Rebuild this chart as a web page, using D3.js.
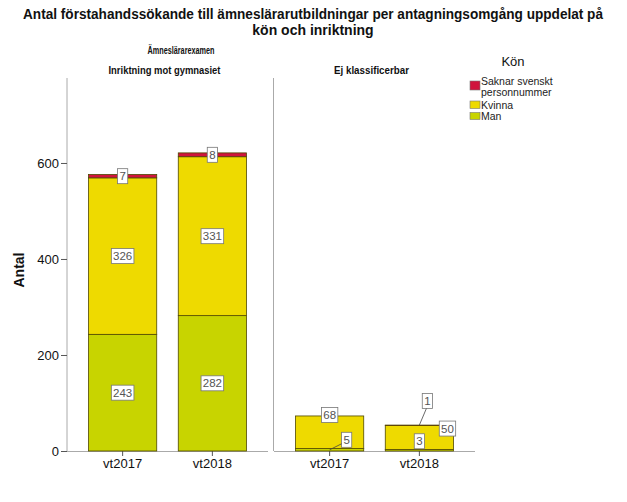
<!DOCTYPE html>
<html><head><meta charset="utf-8">
<script src="https://cdn.jsdelivr.net/npm/d3@7"></script>
<style>body{margin:0;background:#fff}svg{display:block}</style>
</head><body><svg id="c" width="627" height="502"></svg>
<script>
const panels = ["Inriktning mot gymnasiet", "Ej klassificerbar"];
const periods = ["vt2017", "vt2018"];
const seriesNames = ["Man", "Kvinna", "Saknar svenskt personnummer"];
// values per panel, per period
const manValues = [[243, 282], [5, 3]];
const kvinnaValues = [[326, 331], [68, 50]];
const saknarValues = [[7, 8], [0, 1]];
const yTicks = [0, 200, 400, 600];
const colors = ["#C8D400", "#EEDA00", "#D0143C"];

const svg = d3.select("#c");
const font = "Arial, 'Liberation Sans', sans-serif";

// Title
svg.append("text").attr("x", 313).attr("y", 19).attr("text-anchor", "middle")
  .attr("font-family", font).attr("font-weight", "bold").attr("font-size", 14).attr("fill", "#111")
  .attr("textLength", 580).attr("lengthAdjust", "spacingAndGlyphs")
  .text("Antal förstahandssökande till ämneslärarutbildningar per antagningsomgång uppdelat på");
svg.append("text").attr("x", 313).attr("y", 35).attr("text-anchor", "middle")
  .attr("font-family", font).attr("font-weight", "bold").attr("font-size", 14).attr("fill", "#111")
  .text("kön och inriktning");

svg.append("text").attr("x", 181).attr("y", 54).attr("text-anchor", "middle")
  .attr("font-family", font).attr("font-weight", "bold").attr("font-size", 11).attr("fill", "#111")
  .attr("textLength", 67).attr("lengthAdjust", "spacingAndGlyphs")
  .text("Ämneslärarexamen");

const y = d3.scaleLinear().domain([0, 777]).range([451, 78]);
const pw = 201;
const px = [67, 274];
const headerLen = [112, 75];

panels.forEach((p, i) => {
  svg.append("text").attr("x", px[i] + pw / 2 - 3).attr("y", 74).attr("text-anchor", "middle")
    .attr("font-family", font).attr("font-weight", "bold").attr("font-size", 10.5).attr("fill", "#111")
    .attr("textLength", headerLen[i]).attr("lengthAdjust", "spacingAndGlyphs")
    .text(p);
});

// Y axis
const yAxis = d3.axisLeft(y).tickValues(yTicks).tickSize(6).tickPadding(2);
const ga = svg.append("g").attr("transform", "translate(67,0)").call(yAxis);
ga.select(".domain").attr("d", `M0,${y(777)}V${y(0)}`).attr("stroke", "#aaa");
ga.selectAll(".tick line").attr("stroke", "#555");
ga.selectAll(".tick text").attr("font-family", font).attr("font-size", 13).attr("fill", "#111");

svg.append("text").attr("transform", "translate(24,270) rotate(-90)").attr("text-anchor", "middle")
  .attr("font-family", font).attr("font-weight", "bold").attr("font-size", 14).attr("fill", "#111").text("Antal");

// panel divider
svg.append("line").attr("x1", 273.5).attr("x2", 273.5).attr("y1", y(777)).attr("y2", 451).attr("stroke", "#aaa");

const vals = [manValues, kvinnaValues, saknarValues];
const labelNodes = [];

panels.forEach((p, pi) => {
  const x = d3.scaleBand().domain(periods).range([px[pi], px[pi] + pw]).paddingInner(0.24).paddingOuter(0.24);
  const xa = d3.axisBottom(x).tickSize(5).tickPadding(3);
  const gx = svg.append("g").attr("transform", "translate(0,451)").call(xa);
  gx.select(".domain").attr("d", `M${px[pi]},0.5H${px[pi] + pw}`).attr("stroke", "#aaa");
  gx.selectAll(".tick line").attr("stroke", "#555");
  gx.selectAll(".tick text").attr("font-family", font).attr("font-size", 13).attr("fill", "#111");

  periods.forEach((per, ti) => {
    let base = 0;
    seriesNames.forEach((s, si) => {
      const v = vals[si][pi][ti];
      const y0 = base, y1 = base + v;
      base = y1;
      if (v <= 0) return;
      svg.append("rect").attr("x", x(per)).attr("width", x.bandwidth())
        .attr("y", y(y1)).attr("height", y(y0) - y(y1))
        .attr("fill", colors[si]).attr("stroke", "#4f4800").attr("stroke-width", 0.8);
      labelNodes.push({pi, ti, si, v, cx: x(per) + x.bandwidth() / 2, cy: (y(y0) + y(y1)) / 2,
        top: y(y1), right: x(per) + x.bandwidth()});
    });
  });
});

// label placement rules for small segments
function placement(n) {
  if (n.pi === 1) {
    if (n.si === 1) {
      if (n.ti === 0) return {x: n.cx, y: n.top - 1, leader: false};
      return {x: n.right - 6, y: n.top + 3, leader: false};
    }
    if (n.si === 0) {
      if (n.ti === 0) return {x: n.cx + 17, y: n.cy - 10, leader: true};
      return {x: n.cx, y: n.cy - 9, leader: false};
    }
    if (n.si === 2) return {x: n.cx + 8, y: n.top - 24, leader: true};
  }
  return {x: n.cx, y: n.cy, leader: false};
}

labelNodes.forEach(n => {
  const p = placement(n);
  const g = svg.append("g");
  const t = String(n.v);
  const w = t.length * 6.2 + 4, h = 15;
  if (p.leader) {
    const ey = n.si === 2 ? n.top : n.cy;
    svg.append("line").attr("x1", p.x - (n.si === 0 ? w / 2 : 1)).attr("y1", n.si === 0 ? p.y + 4 : p.y + h / 2)
      .attr("x2", n.cx).attr("y2", ey).attr("stroke", "#444").attr("stroke-width", 0.8);
  }
  g.append("rect").attr("x", p.x - w / 2).attr("y", p.y - h / 2).attr("width", w).attr("height", h)
    .attr("fill", "#fff").attr("stroke", "#777").attr("stroke-width", 0.8);
  g.append("text").attr("x", p.x).attr("y", p.y + 4).attr("text-anchor", "middle")
    .attr("font-family", font).attr("font-size", 11.5).attr("fill", "#555").text(t);
});

// Legend
const leg = svg.append("g");
leg.append("text").attr("x", 513).attr("y", 66).attr("text-anchor", "middle")
  .attr("font-family", font).attr("font-size", 13).attr("fill", "#111").text("Kön");
const legItems = [
  {si: 2, lines: ["Saknar svenskt", "personnummer"], y: 81, h: 9, base: 85},
  {si: 1, lines: ["Kvinna"], y: 101, h: 7.5, base: 108.5},
  {si: 0, lines: ["Man"], y: 112.5, h: 7, base: 120}
];
legItems.forEach(it => {
  leg.append("rect").attr("x", 470).attr("y", it.y).attr("width", 10).attr("height", it.h)
    .attr("fill", colors[it.si]).attr("stroke", "#777").attr("stroke-width", 0.6);
  it.lines.forEach((l, k) => {
    leg.append("text").attr("x", 481).attr("y", it.base + k * 10.5)
      .attr("font-family", font).attr("font-size", 10.5).attr("fill", "#222").text(l);
  });
});
</script></body></html>
